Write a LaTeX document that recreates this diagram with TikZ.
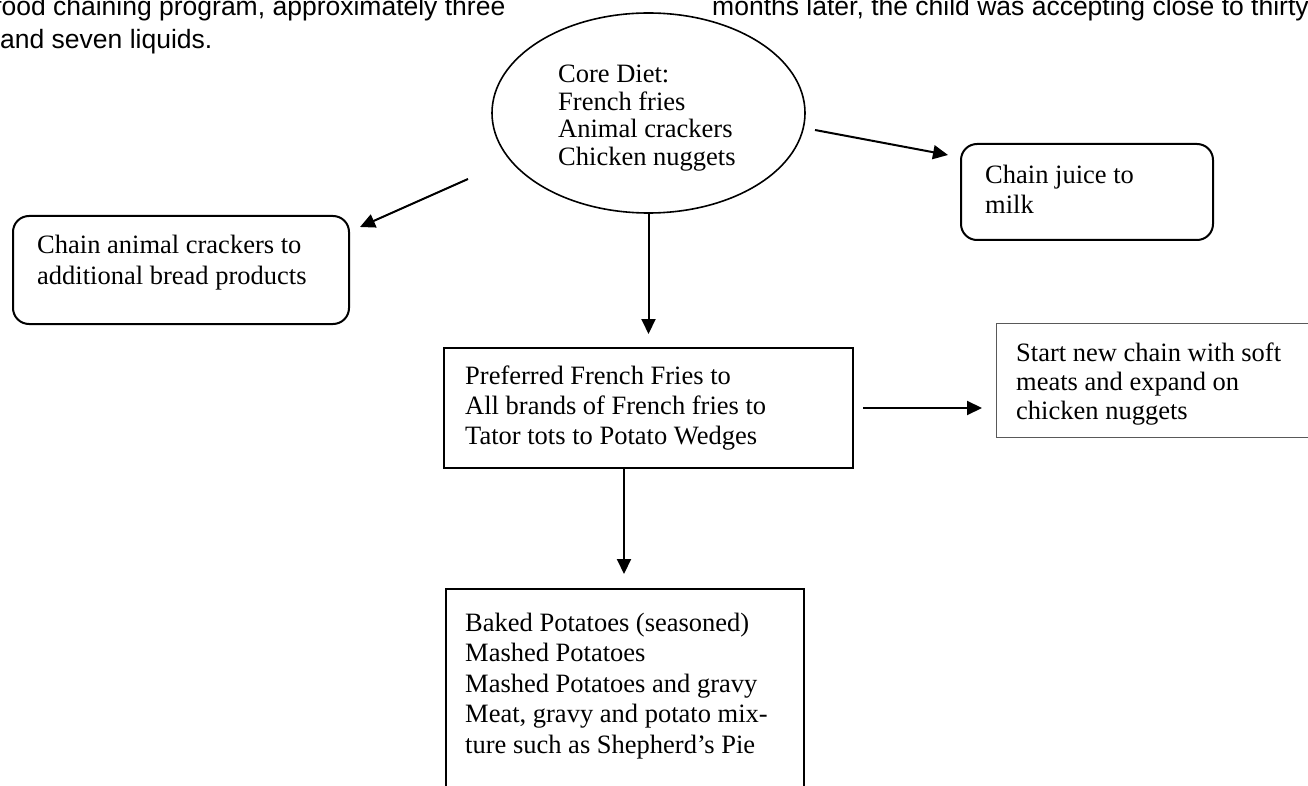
\documentclass[tikz,border=0pt]{standalone}
\usepackage{fontspec}
\setmainfont{Liberation Serif}
\newfontfamily\hdrfont{Liberation Sans}
\usetikzlibrary{arrows.meta,shapes.geometric}
\newcommand{\mltext}[2]{\fontsize{26.5}{#1}\selectfont\begin{tabular}[t]{@{}l@{}}#2\end{tabular}}
\begin{document}
\begin{tikzpicture}[x=1pt,y=-1pt,
  txt/.style={inner sep=0pt, anchor=base west},
  hdr/.style={inner sep=0pt, anchor=base west, font=\hdrfont\fontsize{26.5}{30}\selectfont},
  boxshape/.style={draw=black, line width=2pt, anchor=north west, inner sep=0pt},
  rbox/.style={boxshape, rounded corners=16pt},
  thinbox/.style={draw=black!65, line width=1.2pt, anchor=north west, inner sep=0pt},
  conn/.style={line width=2pt, -{Triangle[length=15pt,width=14pt]}}
]
\useasboundingbox (0,0) rectangle (1308,786);
\clip (0,0) rectangle (1308,786);

% header text (cut by the page edges)
\node[hdr] (h1) at (-6,16) {food chaining program, approximately three};
\node[hdr] (h2) at (0,49) {and seven liquids.};
\node[hdr] (h3) at (712,16) {months later, the child was accepting close to thirty};

% core diet ellipse
\node[draw, line width=1.6pt, ellipse, minimum width=313pt, minimum height=200pt, inner sep=0pt] (core) at (648.5,113) {};
\node[txt] (coretxt) at (558,83) {\mltext{27.5}{Core Diet:\\French fries\\Animal crackers\\Chicken nuggets}};

% left rounded box
\node[rbox, minimum width=336pt, minimum height=108pt] (crackers) at (12,215) {};
\node[txt] (crackerstxt) at (37,254) {\mltext{31}{Chain animal crackers to\\additional bread products}};

% juice box
\node[rbox, minimum width=252pt, minimum height=96pt] (juice) at (960,143) {};
\node[txt] (juicetxt) at (985,184) {\mltext{30}{Chain juice to\\milk}};

% middle box
\node[boxshape, minimum width=409pt, minimum height=120pt] (fries) at (443,347) {};
\node[txt] (friestxt) at (465,384) {\mltext{30}{Preferred French Fries to\\All brands of French fries to\\Tator tots to Potato Wedges}};

% right box (cut by the page edge)
\node[thinbox, minimum width=400pt, minimum height=114pt] (meats) at (996,323) {};
\node[txt] (meatstxt) at (1016,361) {\mltext{29}{Start new chain with soft\\meats and expand on\\chicken nuggets}};

% bottom box (cut by the page edge)
\node[boxshape, minimum width=358pt, minimum height=300pt] (potato) at (445,588) {};
\node[txt] (potatotxt) at (465,631) {\mltext{30.5}{Baked Potatoes (seasoned)\\Mashed Potatoes\\Mashed Potatoes and gravy\\Meat, gravy and potato mix-\\ture such as Shepherd's Pie}};

% connector end points
\coordinate (c1s) at (468,179);
\coordinate (c1e) at (360,227);
\coordinate (c2s) at (815,130);
\coordinate (c2e) at (948,155);
\coordinate (c3e) at (648.5,334);
\coordinate (c4s) at (863,408);
\coordinate (c4e) at (982,408);
\coordinate (c5s) at (624,467);
\coordinate (c5e) at (624,574);

\draw[conn] (c1s) -- (c1e);
\draw[conn] (c2s) -- (c2e);
\draw[conn] (core.south) -- (c3e);
\draw[conn] (c4s) -- (c4e);
\draw[conn] (c5s) -- (c5e);
\end{tikzpicture}
\end{document}
